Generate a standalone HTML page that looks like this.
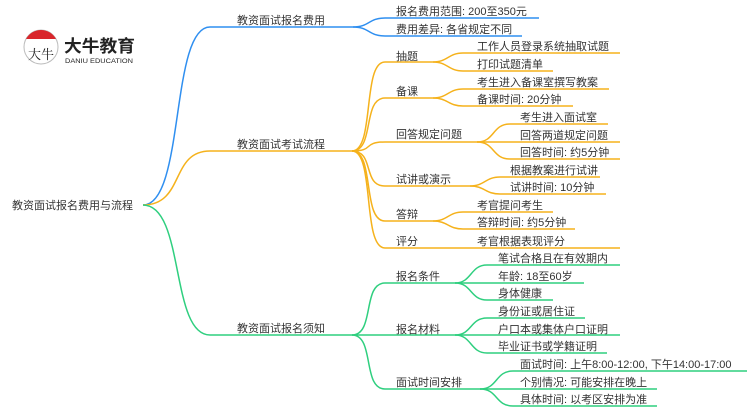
<!DOCTYPE html>
<html><head><meta charset="utf-8"><style>
html,body{margin:0;padding:0;background:#fff;width:750px;height:410px;overflow:hidden}
svg text{font-family:"Liberation Sans","Noto Sans CJK SC",sans-serif;font-size:11px;fill:#333}
</style></head><body>
<svg width="750" height="410" viewBox="0 0 750 410" xmlns="http://www.w3.org/2000/svg">
<!-- logo -->
<circle cx="41" cy="47" r="17" fill="#fff" stroke="#bbb" stroke-width="1"/>
<path d="M26 39 A17 17 0 0 1 56 39 Z" fill="#d9262c"/>
<text x="28" y="59" style="font-size:13px;fill:#222;font-family:'Noto Serif CJK SC',serif">大牛</text>
<text x="64" y="52" textLength="71" lengthAdjust="spacingAndGlyphs" style="font-size:17px;font-weight:bold;fill:#222">大牛教育</text>
<text x="65" y="63" textLength="68" lengthAdjust="spacingAndGlyphs" style="font-size:6.5px;fill:#222">DANIU EDUCATION</text>

<g fill="none" stroke-width="1.5">
<!-- blue -->
<g stroke="#2f8ff0">
<path d="M143 205 C185 205,170 27,210 27 L353 27"/>
<path d="M353 27 C370 27,368 18,385 18 L539 18"/>
<path d="M353 27 C370 27,368 36,385 36 L522 36"/>
</g>
<!-- orange -->
<g stroke="#f5b21c">
<path d="M143 205 C185 205,170 151,210 151 L352 151"/>
<path d="M352 151 C375 151,362 62,385 62 L433 62"/>
<path d="M352 151 C375 151,362 98,385 98 L433 98"/>
<path d="M352 151 C375 151,362 142,385 142 L477 142"/>
<path d="M352 151 C375 151,362 186,385 186 L470 186"/>
<path d="M352 151 C375 151,362 221,385 221 L433 221"/>
<path d="M352 151 C375 151,362 248,385 248 L620 248"/>
<path d="M433 62 C448 62,448 53,463 53 L620 53"/>
<path d="M433 62 C448 62,448 71,463 71 L553 71"/>
<path d="M433 98 C448 98,448 89,463 89 L609 89"/>
<path d="M433 98 C448 98,448 106,463 106 L573 106"/>
<path d="M477 142 C495 142,492 124,510 124 L608 124"/>
<path d="M477 142 L620 142"/>
<path d="M477 142 C495 142,492 159,510 159 L620 159"/>
<path d="M470 186 C485 186,485 177,500 177 L600 177"/>
<path d="M470 186 C485 186,485 194,500 194 L606 194"/>
<path d="M433 221 C448 221,448 212,463 212 L553 212"/>
<path d="M433 221 C448 221,448 229,463 229 L575 229"/>
</g>
<!-- green -->
<g stroke="#2fcf7f">
<path d="M143 205 C185 205,170 335,210 335 L352 335"/>
<path d="M352 335 C375 335,362 283,385 283 L455 283"/>
<path d="M352 335 L455 335"/>
<path d="M352 335 C375 335,362 389,385 389 L480 389"/>
<path d="M455 283 C472 283,470 265,487 265 L620 265"/>
<path d="M455 283 L584 283"/>
<path d="M455 283 C472 283,470 300,487 300 L553 300"/>
<path d="M455 335 C472 335,470 318,487 318 L585 318"/>
<path d="M455 335 L620 335"/>
<path d="M455 335 C472 335,470 353,487 353 L607 353"/>
<path d="M480 389 C498 389,495 371,513 371 L747 371"/>
<path d="M480 389 L657 389"/>
<path d="M480 389 C498 389,495 406,513 406 L657 406"/>
</g>
</g>

<text x="12" y="209">教资面试报名费用与流程</text>
<text x="237" y="24">教资面试报名费用</text>
<text x="237" y="148">教资面试考试流程</text>
<text x="237" y="332">教资面试报名须知</text>

<text x="396" y="15">报名费用范围: 200至350元</text>
<text x="396" y="33">费用差异: 各省规定不同</text>

<text x="396" y="60">抽题</text>
<text x="396" y="95">备课</text>
<text x="396" y="138">回答规定问题</text>
<text x="396" y="183">试讲或演示</text>
<text x="396" y="218">答辩</text>
<text x="396" y="245">评分</text>
<text x="477" y="50">工作人员登录系统抽取试题</text>
<text x="477" y="68">打印试题清单</text>
<text x="477" y="86">考生进入备课室撰写教案</text>
<text x="477" y="103">备课时间: 20分钟</text>
<text x="520" y="121">考生进入面试室</text>
<text x="520" y="139">回答两道规定问题</text>
<text x="520" y="156">回答时间: 约5分钟</text>
<text x="510" y="174">根据教案进行试讲</text>
<text x="510" y="191">试讲时间: 10分钟</text>
<text x="477" y="209">考官提问考生</text>
<text x="477" y="226">答辩时间: 约5分钟</text>
<text x="477" y="245">考官根据表现评分</text>

<text x="396" y="280">报名条件</text>
<text x="396" y="333">报名材料</text>
<text x="396" y="386">面试时间安排</text>
<text x="498" y="262">笔试合格且在有效期内</text>
<text x="498" y="280">年龄: 18至60岁</text>
<text x="498" y="297">身体健康</text>
<text x="498" y="315">身份证或居住证</text>
<text x="498" y="333">户口本或集体户口证明</text>
<text x="498" y="350">毕业证书或学籍证明</text>
<text x="520" y="368">面试时间: 上午8:00-12:00, 下午14:00-17:00</text>
<text x="520" y="386">个别情况: 可能安排在晚上</text>
<text x="520" y="403">具体时间: 以考区安排为准</text>
</svg>
</body></html>
